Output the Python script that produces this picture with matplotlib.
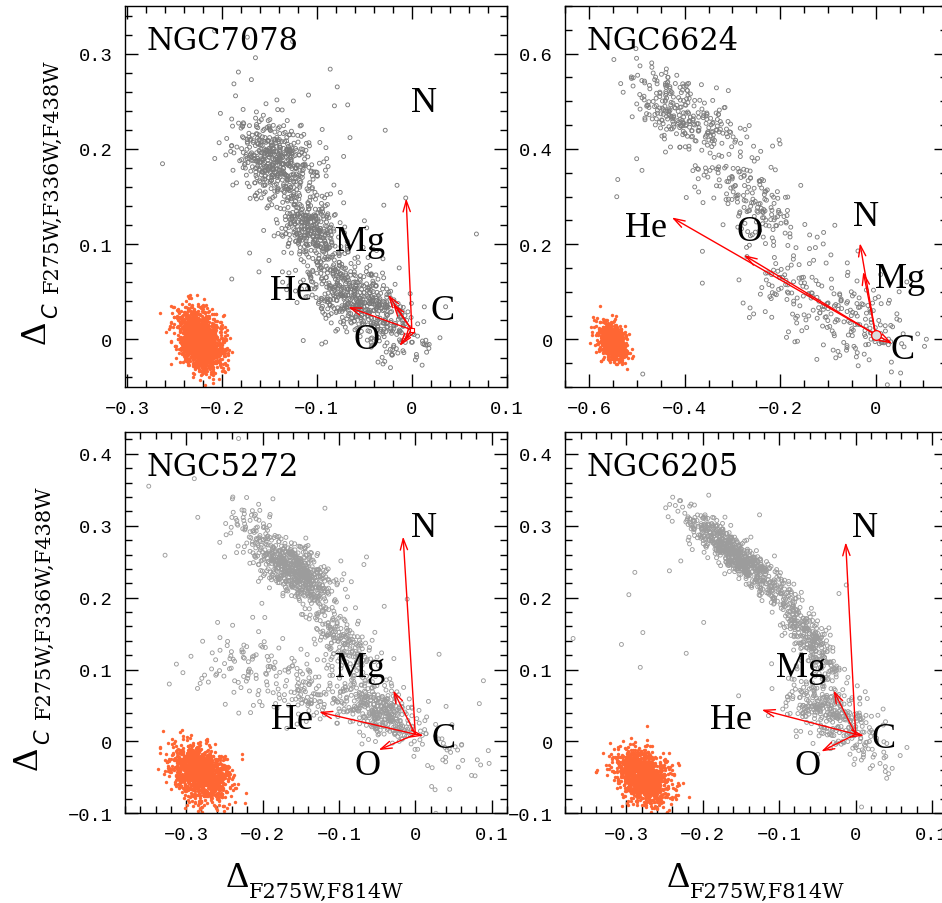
import numpy as np
import matplotlib
matplotlib.use("Agg")
import matplotlib.pyplot as plt
from matplotlib.ticker import MultipleLocator, FuncFormatter

W, H = 942, 904

# ---------------------------------------------------------------------------
# Data
# ---------------------------------------------------------------------------
cluster_names = ["NGC7078", "NGC6624", "NGC5272", "NGC6205"]

# Stellar groups of each chromosome map:
# (x centre, y centre, sigma x, sigma y, correlation, number of stars)
ngc7078_stars = [
    (-0.142, 0.186, 0.022, 0.022, -0.30, 480),
    (-0.108, 0.116, 0.017, 0.017, -0.40, 300),
    (-0.062, 0.044, 0.026, 0.022, -0.50, 480),
    (-0.020, 0.012, 0.020, 0.018, -0.20, 90),
    (-0.100, 0.130, 0.070, 0.080, -0.50, 70),
]
ngc6624_stars = [
    (-0.400, 0.470, 0.060, 0.050, -0.60, 280),
    (-0.260, 0.290, 0.060, 0.050, -0.55, 160),
    (-0.140, 0.100, 0.080, 0.050, -0.40, 120),
    (-0.040, 0.030, 0.050, 0.040, -0.20, 110),
    (-0.250, 0.250, 0.200, 0.180, -0.60, 35),
]
ngc5272_stars = [
    (-0.158, 0.238, 0.024, 0.022, -0.60, 620),
    (-0.215, 0.290, 0.020, 0.025, -0.30, 60),
    (-0.095, 0.140, 0.025, 0.030, -0.70, 200),
    (-0.045, 0.040, 0.028, 0.022, -0.60, 350),
    (-0.225, 0.100, 0.040, 0.028, -0.30, 85),
    (-0.140, 0.070, 0.032, 0.024, -0.30, 120),
    (0.040, -0.020, 0.030, 0.030, -0.40, 30),
    (-0.150, 0.150, 0.120, 0.120, -0.50, 40),
]
ngc6205_stars = [
    (-0.160, 0.262, 0.031, 0.029, -0.88, 650),
    (-0.065, 0.150, 0.024, 0.035, -0.85, 320),
    (-0.035, 0.040, 0.030, 0.024, -0.50, 330),
    (0.020, -0.010, 0.025, 0.020, -0.30, 25),
    (-0.150, 0.150, 0.120, 0.120, -0.40, 25),
]

# Observational-error clouds (same layout as above)
ngc7078_errors = (-0.222, -0.001, 0.012, 0.016, -0.35, 1500)
ngc6624_errors = (-0.551, -0.004, 0.015, 0.020, -0.30, 800)
ngc5272_errors = (-0.282, -0.045, 0.018, 0.019, -0.30, 1300)
ngc6205_errors = (-0.279, -0.049, 0.017, 0.019, -0.30, 1300)

# Abundance-variation vectors, all starting at a common origin
arrow_origin = (0.0, 0.01)
ngc7078_arrows = [(-0.006, 0.148), (-0.067, 0.034), (-0.025, 0.047),
                  (-0.020, 0.038), (-0.013, -0.007), (-0.008, -0.002)]
ngc6624_arrows = [(-0.033, 0.202), (-0.026, 0.142), (-0.427, 0.256),
                  (-0.276, 0.177), (0.035, -0.009)]
ngc5272_arrows = [(-0.016, 0.285), (-0.029, 0.071), (-0.126, 0.041),
                  (-0.048, -0.012), (0.011, 0.008)]
ngc6205_arrows = [(-0.013, 0.277), (-0.029, 0.071), (-0.123, 0.044),
                  (-0.045, -0.014), (0.011, 0.008)]

# Element labels: (text, x, y)
ngc7078_labels = [("N", 0.013, 0.249), ("Mg", -0.055, 0.103), ("He", -0.127, 0.051),
                  ("C", 0.032, 0.030), ("O", -0.048, 0.000)]
ngc6624_labels = [("N", -0.021, 0.258), ("Mg", 0.051, 0.128), ("He", -0.480, 0.234),
                  ("O", -0.264, 0.227), ("C", 0.056, -0.022)]
ngc5272_labels = [("N", 0.012, 0.297), ("Mg", -0.072, 0.103), ("He", -0.162, 0.031),
                  ("C", 0.037, 0.004), ("O", -0.063, -0.033)]
ngc6205_labels = [("N", 0.012, 0.297), ("Mg", -0.072, 0.103), ("He", -0.163, 0.031),
                  ("C", 0.036, 0.004), ("O", -0.063, -0.033)]

# Axis ranges and tick spacing: (xlim, ylim, x major, x minor, y major, y minor)
ngc7078_axes = ((-0.302, 0.1002), (-0.05, 0.35), 0.1, 0.02, 0.1, 0.02)
ngc6624_axes = ((-0.65, 0.15), (-0.10, 0.70), 0.2, 0.05, 0.2, 0.05)
ngc5272_axes = ((-0.38, 0.12), (-0.10, 0.43), 0.1, 0.02, 0.1, 0.02)
ngc6205_axes = ((-0.38, 0.12), (-0.10, 0.43), 0.1, 0.02, 0.1, 0.02)

star_colors = ["#7a7a7a", "#7e7e7e", "#9c9c9c", "#9c9c9c"]
error_color = "#ff6633"
arrow_color = "#ff0000"

# ---------------------------------------------------------------------------
rng = np.random.default_rng(7)


def draw_group(params):
    cx, cy, sx, sy, rho, n = params
    cov = [[sx * sx, rho * sx * sy], [rho * sx * sy, sy * sy]]
    pts = rng.multivariate_normal([cx, cy], cov, size=n)
    return pts[:, 0], pts[:, 1]


def fmt(v, _pos):
    if abs(v) < 1e-9:
        return "0"
    return ("%g" % v).replace("-", "\u2212")


def px(x, y):
    return x / W, 1 - y / H


fig = plt.figure(figsize=(W / 100, H / 100), dpi=100)

aw, ah = 382 / W, 381 / H
positions = [
    (125 / W, (H - 388) / H),
    (565.3 / W, (H - 388) / H),
    (125 / W, (H - 814.3) / H),
    (565.3 / W, (H - 814.3) / H),
]

all_stars = [ngc7078_stars, ngc6624_stars, ngc5272_stars, ngc6205_stars]
all_errors = [ngc7078_errors, ngc6624_errors, ngc5272_errors, ngc6205_errors]
all_arrows = [ngc7078_arrows, ngc6624_arrows, ngc5272_arrows, ngc6205_arrows]
all_labels = [ngc7078_labels, ngc6624_labels, ngc5272_labels, ngc6205_labels]
all_axes = [ngc7078_axes, ngc6624_axes, ngc5272_axes, ngc6205_axes]

for i, name in enumerate(cluster_names):
    ax = fig.add_axes([positions[i][0], positions[i][1], aw, ah])
    xlim, ylim, xmaj, xmin, ymaj, ymin = all_axes[i]

    # error cloud
    ex, ey = draw_group(all_errors[i])
    ax.scatter(ex, ey, s=6, marker="o", color=error_color, linewidths=0, zorder=2)

    # stars
    for grp in all_stars[i]:
        gx, gy = draw_group(grp)
        ax.scatter(gx, gy, s=8, marker="o", facecolors="none",
                   edgecolors=star_colors[i], linewidths=0.65, zorder=3)

    # vectors
    ox, oy = arrow_origin
    for tx, ty in all_arrows[i]:
        ax.annotate("", xy=(tx, ty), xytext=(ox, oy),
                    arrowprops=dict(arrowstyle="->,head_length=0.8,head_width=0.26",
                                    color=arrow_color, lw=1.0,
                                    shrinkA=0, shrinkB=0), zorder=5)
    if i == 0:
        ax.plot([ox], [oy], marker="s", ms=3.5, mfc="white", mec=arrow_color,
                mew=0.8, zorder=6)
    elif i == 1:
        ax.plot([ox], [oy], marker="o", ms=7, mfc="#dcdcdc", mec=arrow_color,
                mew=0.9, zorder=6)

    for txt, lx, ly in all_labels[i]:
        ax.text(lx, ly, txt, family="Liberation Serif", fontsize=26,
                ha="center", va="center", zorder=7)

    ax.text(0.055, 0.887, name, transform=ax.transAxes, family="DejaVu Serif",
            fontsize=22, ha="left", va="baseline", zorder=7)

    ax.set_xlim(*xlim)
    ax.set_ylim(*ylim)
    ax.xaxis.set_major_locator(MultipleLocator(xmaj))
    ax.xaxis.set_minor_locator(MultipleLocator(xmin))
    ax.yaxis.set_major_locator(MultipleLocator(ymaj))
    ax.yaxis.set_minor_locator(MultipleLocator(ymin))
    ax.xaxis.set_major_formatter(FuncFormatter(fmt))
    ax.yaxis.set_major_formatter(FuncFormatter(fmt))
    ax.tick_params(which="both", direction="in", top=True, right=True,
                   width=1.0, color="black")
    ax.tick_params(which="major", length=9.5, pad=9)
    ax.tick_params(which="minor", length=5)
    for lab in ax.get_xticklabels() + ax.get_yticklabels():
        lab.set_fontfamily("Liberation Mono")
        lab.set_fontsize(13.5)
    for sp in ax.spines.values():
        sp.set_linewidth(1.0)

# Axis titles
delta_font = dict(family="Liberation Serif", fontsize=26)
sub_font = dict(family="DejaVu Serif", fontsize=15)
ital_font = dict(family="DejaVu Sans", style="italic", fontsize=15)

for dx, shift in ((0, 0), (-8, 426.3)):
    fig.text(*px(45 + dx, 344 + shift), "\u0394", rotation=90, rotation_mode="anchor",
             ha="left", va="baseline", **delta_font)
    fig.text(*px(57 + dx, 318 + shift), "C", rotation=90, rotation_mode="anchor",
             ha="left", va="baseline", **ital_font)
    fig.text(*px(58 + dx, 293 + shift), "F275W,F336W,F438W", rotation=90,
             rotation_mode="anchor", ha="left", va="baseline", **sub_font)

for x0 in (226, 667):
    fig.text(*px(x0, 886.7), "\u0394", ha="left", va="baseline", **delta_font)
    fig.text(*px(x0 + 23, 898), "F275W,F814W", ha="left", va="baseline", **sub_font)

fig.savefig("out.png", dpi=100)
